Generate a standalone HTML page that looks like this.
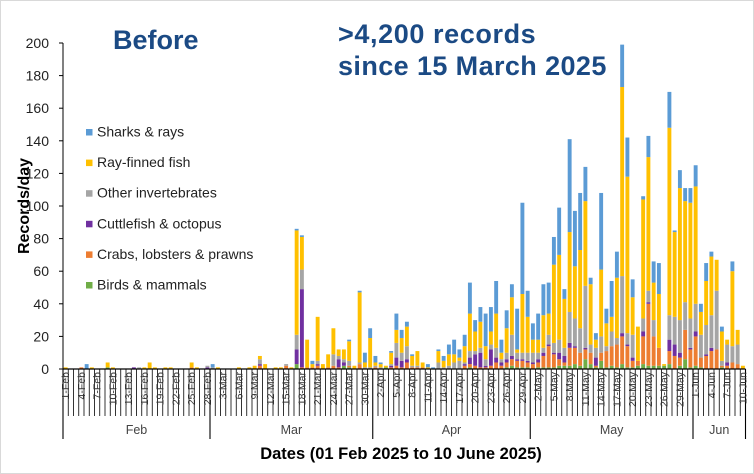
<!DOCTYPE html>
<html><head><meta charset="utf-8">
<style>
html,body{margin:0;padding:0;background:#fff;}
#wrap{position:relative;width:752px;height:472px;border:1px solid #d9d9d9;overflow:hidden;font-family:"Liberation Sans",Arial,sans-serif;}
svg text{font-family:"Liberation Sans",Arial,sans-serif;}
</style></head>
<body>
<div id="wrap">
<svg id="chart" width="752" height="472"></svg>
</div>
<script>
const months = ["Feb","Mar","Apr","May","Jun"];
const monthDays = [28,31,30,31,10];
const seriesNames = ["Birds & mammals","Crabs, lobsters & prawns","Cuttlefish & octopus","Other invertebrates","Ray-finned fish","Sharks & rays"];
const yTicks = [0,20,40,60,80,100,120,140,160,180,200];
const birds = [0,0,0,0,0,0,0,0,1,0, 0,0,0,0,0,0,0,0,0,0, 0,0,0,0,0,0,0,0,0,0, 0,0,0,0,0,0,0,0,0,0,
 0,0,0,0,3,0,0,0,0,0, 0,0,0,2,1,0,0,0,0,0, 0,1,0,0,0,0,0,0,0,0, 0,0,0,0,0,0,0,1,0,0,
 0,0,0,0,1,2,1,1,1,0, 1,1,1,1,2,2,2,3,2,6, 3,1,5,1,2,1,3,1,1,2, 3,2,2,2,2,3,0,2,6,1, 2,1,0,0,0,1,0,0,0,0];
const crabs = [0,0,0,1,0,0,0,0,0,0, 0,0,0,0,0,0,0,0,0,0, 0,0,0,0,1,0,0,0,0,0, 0,0,0,0,0,0,0,2,0,0,
 0,0,2,0,0,1,1,1,2,0, 1,2,1,0,1,0,3,0,0,1, 0,0,1,2,1,4,1,1,1,0, 0,0,0,0,0,0,2,2,2,1,
 1,2,4,2,3,4,4,4,3,3, 3,7,13,8,4,2,11,10,8,6, 7,1,5,10,12,14,17,13,4,3, 17,38,18,11,0,8,8,5,18,11, 18,6,8,11,12,1,2,4,3,0];
const cuttlefish = [0,0,0,0,0,0,0,0,0,0, 0,0,0,1,0,0,0,0,0,0, 0,0,0,0,0,0,0,1,0,0, 0,0,0,0,0,0,0,1,0,0,
 0,0,0,0,9,48,0,0,1,0, 0,0,5,2,0,0,0,0,0,0, 0,0,1,5,4,2,0,0,0,0, 0,0,0,0,0,0,1,4,7,9,
 1,10,3,2,2,2,1,1,1,1, 2,2,1,1,4,4,3,1,0,1, 0,5,0,0,0,0,2,1,2,0, 3,1,0,0,0,7,7,3,0,1, 3,0,1,2,0,0,2,0,0,0];
const invertebrates = [0,0,0,0,0,0,0,0,0,0, 0,0,0,0,1,0,0,0,0,0, 0,0,0,0,0,0,0,1,1,0, 0,0,0,0,0,0,0,3,0,0,
 0,0,1,0,9,12,0,0,2,0, 0,7,2,2,3,0,1,1,1,1, 1,0,1,9,5,8,1,1,0,0, 0,4,1,2,4,5,1,4,2,3,
 4,3,6,2,4,13,4,4,5,6, 4,3,6,6,8,5,19,17,15,38, 5,6,10,3,9,4,35,7,14,0, 8,7,10,0,0,15,17,20,17,18, 17,14,18,20,36,3,11,10,12,0];
const rayFinned = [1,0,0,0,0,1,0,0,3,1, 0,0,0,0,0,1,4,1,0,1, 1,0,0,0,3,1,0,0,0,1, 0,0,0,1,0,1,2,2,3,0,
 1,1,0,1,64,20,17,2,27,3, 8,16,4,6,12,2,43,3,18,2, 2,1,7,8,9,12,6,9,3,1, 0,7,4,7,5,2,10,23,12,16,
 8,8,21,4,15,23,2,36,22,8, 8,20,13,48,52,30,49,32,48,52, 37,5,41,14,9,37,116,96,23,21, 73,82,23,33,1,115,52,81,62,71, 72,14,27,36,19,18,3,46,9,2];
const sharks = [0,0,0,0,3,0,0,0,0,0, 0,0,0,0,0,0,0,0,0,0, 0,0,0,0,0,0,0,0,2,0, 0,0,0,0,0,0,0,0,0,0,
 0,0,0,0,1,1,0,2,0,0, 0,0,0,0,1,0,1,6,6,4, 1,0,1,10,5,3,1,0,0,2, 1,1,3,6,9,5,7,19,7,9,
 20,15,20,8,11,8,25,56,16,10, 16,19,19,17,29,6,57,34,35,21, 4,4,47,9,22,16,26,24,11,0, 2,13,13,19,0,22,1,11,8,9, 13,5,11,3,0,3,0,6,0,0];

const seriesData = [birds,crabs,cuttlefish,invertebrates,rayFinned,sharks];
const colors = ["#70AD47","#ED7D31","#7030A0","#A5A5A5","#FFC000","#5B9BD5"];
const seriesKeys = ["birds","crabs","cuttlefish","invertebrates","ray-finned","sharks"];

const NS="http://www.w3.org/2000/svg";
const svg=document.getElementById('chart');
const X0=62, DAY=5.25, Y0=368, YTOP=42, YMAX=200;
const xPos=i=>X0+i*DAY;
const yPos=v=>Y0-(v/YMAX)*(Y0-YTOP);
function mk(tag,attrs,parent){const e=document.createElementNS(NS,tag);for(const k in attrs)e.setAttribute(k,attrs[k]);(parent||svg).appendChild(e);return e;}

const categories=[];
months.forEach((m,mi)=>{for(let d=1;d<=monthDays[mi];d++)categories.push(d+"-"+m);});

let t=mk('text',{x:112,y:48,'font-size':27,'font-weight':'bold',fill:'#1B4A84'});t.textContent="Before";


t=mk('text',{x:337,y:42,'font-size':27,'font-weight':'bold',fill:'#1B4A84','letter-spacing':'0.6'});t.textContent=">4,200 records";


t=mk('text',{x:337,y:74,'font-size':27,'font-weight':'bold',fill:'#1B4A84','letter-spacing':'0.4'});t.textContent="since 15 March 2025";



const yg=mk('g',{});


mk('line',{x1:X0,y1:YTOP,x2:X0,y2:Y0,stroke:'#000','stroke-width':1},yg);
yTicks.forEach(v=>{
  mk('line',{x1:X0-4,y1:yPos(v),x2:X0,y2:yPos(v),stroke:'#000'},yg);
  const tx=mk('text',{x:48,y:yPos(v)+5,'font-size':14,'text-anchor':'end',fill:'#222'},yg);
  tx.textContent=v;
  
  
});
t=mk('text',{x:0,y:0,'font-size':16,'font-weight':'bold',fill:'#000','text-anchor':'middle',transform:'translate(28,205) rotate(-90)'});
t.textContent="Records/day";



const bg=mk('g',{});


categories.forEach((c,i)=>{
  let acc=0;
  seriesData.forEach((arr,s)=>{
    const v=arr[i]||0; if(!v) return;
    const y1=yPos(acc+v), y2=yPos(acc);
    const r=mk('rect',{x:xPos(i)+0.7,y:y1,width:3.9,height:y2-y1,fill:colors[s]},bg);
    
    
    acc+=v;
  });
});

const xg=mk('g',{});


const nDays=categories.length;
mk('line',{x1:X0,y1:Y0,x2:xPos(nDays),y2:Y0,stroke:'#000','stroke-width':1.2},xg);
let starts=[0];monthDays.forEach(d=>starts.push(starts[starts.length-1]+d));
for(let i=0;i<=nDays;i++){
  const isMonth=starts.includes(i);
  mk('line',{x1:xPos(i),y1:Y0,x2:xPos(i),y2:isMonth?438:415,stroke:'#000','stroke-width':isMonth?1.1:0.8},xg);
}
categories.forEach((c,i)=>{
  if(i%3!==0) return;
  const tx=mk('text',{x:0,y:0,'font-size':10.5,'text-anchor':'end',fill:'#333',transform:`translate(${xPos(i)+6.2},${Y0+3}) rotate(-90)`},xg);
  tx.textContent=c;
  
  
});
months.forEach((m,mi)=>{
  const cx=(xPos(starts[mi])+xPos(starts[mi+1]))/2;
  const tx=mk('text',{x:cx,y:433,'font-size':12.5,'text-anchor':'middle',fill:'#444'},xg);
  tx.textContent=m;
  
  
});
t=mk('text',{x:400,y:458,'font-size':16.5,'font-weight':'bold','text-anchor':'middle',fill:'#000'});
t.textContent="Dates (01 Feb 2025 to 10 June 2025)";



const lg=mk('g',{});


for(let k=0;k<6;k++){
  const s=5-k; const y=134+k*30.6;
  const e=mk('g',{},lg);
  
  
  mk('rect',{x:85,y:y-6,width:6.5,height:6.5,fill:colors[s]},e);
  const tx=mk('text',{x:96,y:y+1.5,'font-size':14,fill:'#222'},e);
  tx.textContent=seriesNames[s];
}
</script>
</body></html>
